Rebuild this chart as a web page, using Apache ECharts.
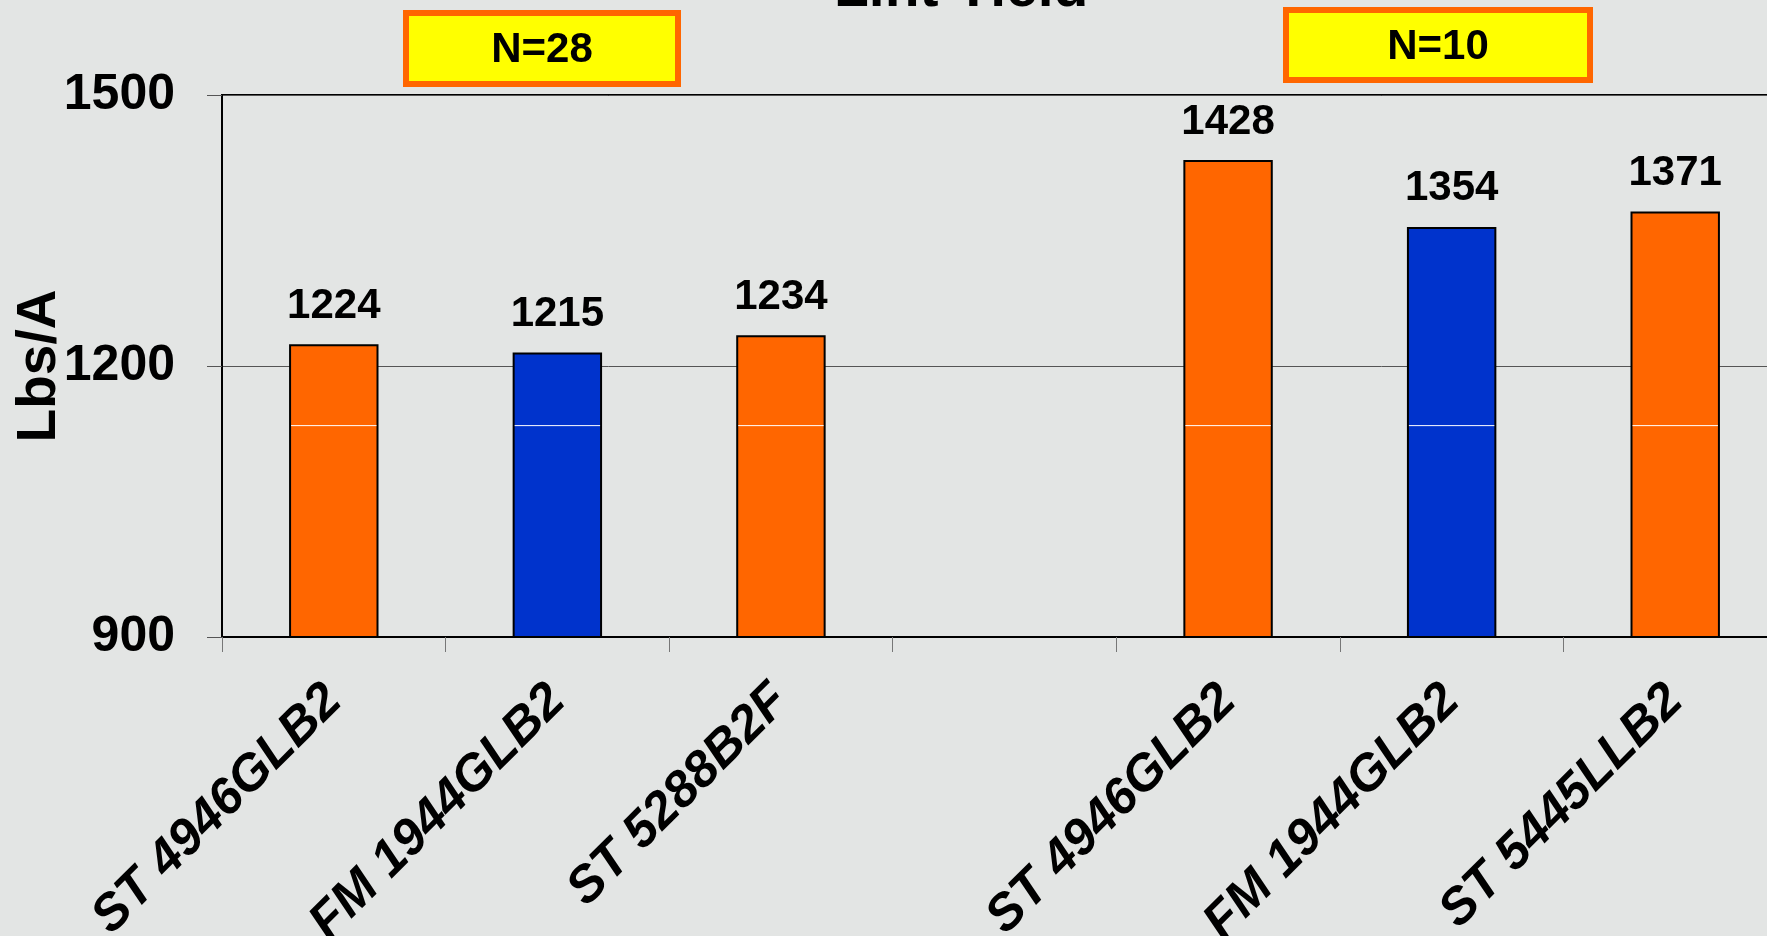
<!DOCTYPE html>
<html>
<head>
<meta charset="utf-8">
<script src="https://cdn.jsdelivr.net/npm/echarts@6/dist/echarts.min.js"></script>
<style>
html,body{margin:0;padding:0;background:#e3e5e4;}
#chart{width:1767px;height:936px;}
</style>
</head>
<body>
<div id="chart"></div>
<script>
const titleText = 'Lint Yield';
const yAxisName = 'Lbs/A';
const categories = ['ST 4946GLB2', 'FM 1944GLB2', 'ST 5288B2F', '', 'ST 4946GLB2', 'FM 1944GLB2', 'ST 5445LLB2'];
const lintYield = [1224, 1215, 1234, null, 1428, 1354, 1371];
const barColors = ['#ff6600', '#0033cc', '#ff6600', '#ff6600', '#ff6600', '#0033cc', '#ff6600'];
const yMin = 900, yMax = 1500, yInterval = 300;
const whiteLineValue = 1134;
const groupNotes = ['N=28', 'N=10'];

const FONT = '"Liberation Sans", Arial, sans-serif';
const chart = echarts.init(document.getElementById('chart'));

const option = {
  backgroundColor: '#e3e5e4',
  animation: false,
  title: {
    text: titleText,
    left: 829,
    top: -43,
    textStyle: { fontFamily: FONT, fontSize: 57, fontWeight: 'bold', color: '#000' }
  },
  grid: {
    left: 222, top: 95, right: -20, bottom: 299,
    containLabel: false,
    outerBoundsMode: 'none',
    show: true, borderColor: '#000', borderWidth: 2, backgroundColor: 'transparent'
  },
  xAxis: {
    type: 'category',
    data: categories,
    axisLine: { lineStyle: { color: '#000', width: 2 } },
    axisTick: { show: true, length: 15, lineStyle: { color: '#777', width: 1 } },
    axisLabel: {
      interval: 0, rotate: 45, margin: 56,
      fontFamily: FONT, fontSize: 51, fontWeight: 'bold', fontStyle: 'italic', color: '#000'
    }
  },
  yAxis: {
    type: 'value',
    min: yMin, max: yMax, interval: yInterval,
    name: yAxisName,
    nameLocation: 'middle',
    nameGap: 155,
    nameMoveOverlap: false,
    nameRotate: 90,
    nameTextStyle: { fontFamily: FONT, fontSize: 55, fontWeight: 'bold', color: '#000' },
    axisLine: { show: true, lineStyle: { color: '#000', width: 2 } },
    axisTick: { show: true, length: 15, lineStyle: { color: '#555', width: 1 } },
    axisLabel: {
      margin: 47, fontFamily: FONT, fontSize: 50, fontWeight: 'bold', color: '#000',
      formatter: v => String(v)
    },
    splitLine: { show: true, lineStyle: { color: '#555', width: 1 } }
  },
  series: [
    {
      type: 'bar',
      barWidth: '40%',
      data: lintYield.map((v, i) => ({
        value: v,
        itemStyle: { color: barColors[i], borderColor: '#000', borderWidth: 2 }
      })),
      label: {
        show: true, position: 'top', distance: 17,
        fontFamily: FONT, fontSize: 42, fontWeight: 'bold', color: '#000'
      },
      z: 2
    },
    {
      type: 'custom',
      z: 3,
      silent: true,
      data: lintYield.map((v, i) => [i, v]),
      encode: { x: 0, y: 1 },
      renderItem: function (params, api) {
        const v = api.value(1);
        if (v == null || isNaN(v)) return null;
        const p = api.coord([api.value(0), whiteLineValue]);
        const w = api.size([1, 0])[0] * 0.4;
        return {
          type: 'line',
          shape: { x1: p[0] - w / 2 + 2, y1: p[1], x2: p[0] + w / 2 - 2, y2: p[1] },
          style: { stroke: '#ffffff', lineWidth: 1 }
        };
      }
    }
  ],
  graphic: [
    { type: 'rect', shape: { x: 406, y: 13, width: 272, height: 71 },
      style: { fill: '#ffff00', stroke: '#ff6600', lineWidth: 6 }, z: 10 },
    { type: 'text', x: 542, y: 50, z: 11,
      style: { text: groupNotes[0], font: 'bold 42px ' + FONT, fill: '#000', align: 'center', verticalAlign: 'middle' } },
    { type: 'rect', shape: { x: 1286, y: 10, width: 304, height: 70 },
      style: { fill: '#ffff00', stroke: '#ff6600', lineWidth: 6 }, z: 10 },
    { type: 'text', x: 1438, y: 47, z: 11,
      style: { text: groupNotes[1], font: 'bold 42px ' + FONT, fill: '#000', align: 'center', verticalAlign: 'middle' } }
  ]
};
chart.setOption(option);
</script>
</body>
</html>
